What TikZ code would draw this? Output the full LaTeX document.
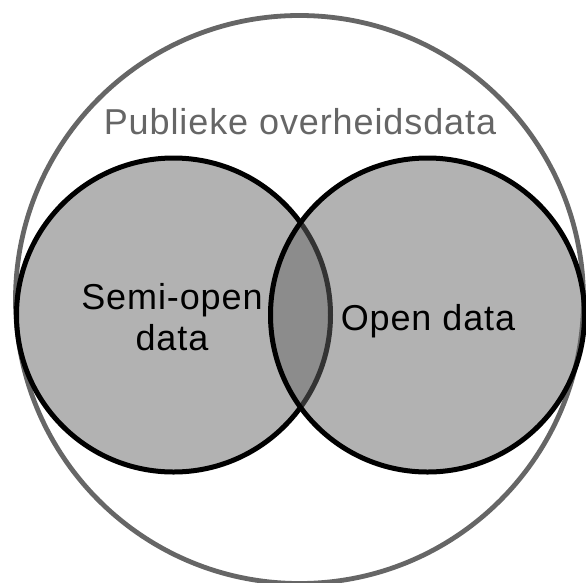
\documentclass[tikz,border=0pt]{standalone}
\usepackage{fontspec}
\setmainfont[LetterSpace=2.5]{Liberation Sans}
\definecolor{rim}{HTML}{666666}
\begin{document}
\begin{tikzpicture}[x=1pt,y=-1pt,
  outerring/.style={draw=rim, line width=4.8pt},
  setdisc/.style={fill=rim, fill opacity=0.5, draw=black, line width=5pt},
  lbl/.style={font=\fontsize{36}{41}\selectfont, align=center, inner sep=0pt}]
\useasboundingbox (0,0) rectangle (586,582);
% enclosing set
\draw[outerring] (299.5,299.5) circle[radius=284pt];
% the two overlapping subsets
\draw[setdisc] (173.5,315) circle[radius=157pt];
\draw[setdisc] (427.5,315) circle[radius=157pt];
% labels
\node[lbl, text=rim, anchor=base] (pub) at (300,134) {Publieke overheidsdata};
\node[lbl, anchor=center] (semi) at (172,317) {Semi-open\\data};
\node[lbl, anchor=base] (open) at (428,330) {Open data};
\end{tikzpicture}
\end{document}
